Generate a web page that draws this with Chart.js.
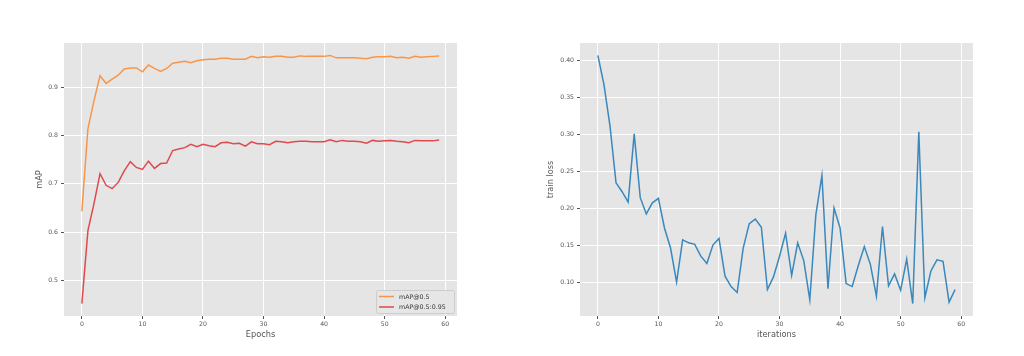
<!DOCTYPE html>
<html>
<head>
<meta charset="utf-8">
<script src="https://cdn.jsdelivr.net/npm/chart.js@4.4.1/dist/chart.umd.min.js"></script>
<style>
  html, body { margin: 0; padding: 0; background: #ffffff; }
  #wrap { position: relative; width: 1024px; height: 356px; }
  .cv { position: absolute; top: 0; }
</style>
</head>
<body>
<div id="wrap">
  <canvas id="left" class="cv" width="512" height="356" style="left:0px"></canvas>
  <canvas id="right" class="cv" width="512" height="356" style="left:512px"></canvas>
</div>
<script>
const epochs = Array.from({length: 60}, (_, i) => i);

const mapLabel50 = 'mAP@0.5';
const mapLabel5095 = 'mAP@0.5:0.95';
const lossLabel = 'train loss';

const map50 = [
  0.643, 0.814, 0.872, 0.924, 0.908, 0.917, 0.925, 0.938, 0.940, 0.940,
  0.932, 0.946, 0.939, 0.933, 0.939, 0.950, 0.952, 0.954, 0.951, 0.955,
  0.957, 0.958, 0.958, 0.960, 0.960, 0.958, 0.958, 0.958, 0.964, 0.961,
  0.963, 0.962, 0.964, 0.964, 0.962, 0.962, 0.965, 0.964, 0.964, 0.964,
  0.964, 0.966, 0.961, 0.961, 0.961, 0.961, 0.960, 0.959, 0.962, 0.963,
  0.963, 0.964, 0.961, 0.962, 0.960, 0.964, 0.962, 0.963, 0.964, 0.965
];

const map5095 = [
  0.452, 0.603, 0.659, 0.721, 0.697, 0.690, 0.703, 0.727, 0.746, 0.734,
  0.730, 0.747, 0.732, 0.742, 0.743, 0.769, 0.772, 0.775, 0.782, 0.777,
  0.782, 0.779, 0.777, 0.785, 0.786, 0.783, 0.784, 0.778, 0.787, 0.783,
  0.783, 0.781, 0.788, 0.787, 0.785, 0.787, 0.788, 0.788, 0.787, 0.787,
  0.787, 0.791, 0.787, 0.790, 0.788, 0.788, 0.787, 0.784, 0.790, 0.788,
  0.789, 0.790, 0.788, 0.787, 0.785, 0.790, 0.789, 0.789, 0.789, 0.791
];

const trainLoss = [
  0.407, 0.368, 0.312, 0.235, 0.223, 0.209, 0.301, 0.215, 0.193, 0.208,
  0.214, 0.174, 0.147, 0.101, 0.158, 0.154, 0.152, 0.136, 0.126, 0.151,
  0.160, 0.109, 0.095, 0.087, 0.147, 0.180, 0.186, 0.175, 0.091, 0.108,
  0.136, 0.167, 0.110, 0.154, 0.130, 0.077, 0.192, 0.245, 0.092, 0.201,
  0.174, 0.099, 0.095, 0.123, 0.149, 0.125, 0.082, 0.176, 0.096, 0.112,
  0.090, 0.132, 0.072, 0.304, 0.080, 0.116, 0.131, 0.129, 0.074, 0.091
];

const xTicks = [0, 10, 20, 30, 40, 50, 60];
const xTickLabels = ['0', '10', '20', '30', '40', '50', '60'];
const mapTicks = [0.5, 0.6, 0.7, 0.8, 0.9];
const mapTickLabels = ['0.5', '0.6', '0.7', '0.8', '0.9'];
const lossTicks = [0.10, 0.15, 0.20, 0.25, 0.30, 0.35, 0.40];
const lossTickLabels = ['0.10', '0.15', '0.20', '0.25', '0.30', '0.35', '0.40'];

const FONT = "'DejaVu Sans', sans-serif";
const TXT = '#555555';

function margins(arrays) {
  const all = [].concat(...arrays);
  const lo = Math.min(...all), hi = Math.max(...all);
  const pad = (hi - lo) * 0.05;
  return {min: lo - pad, max: hi + pad};
}
const xRange = {min: epochs[0] - (epochs[59] - epochs[0]) * 0.05, max: epochs[59] + (epochs[59] - epochs[0]) * 0.05};

const bgPlugin = {
  id: 'plotBg',
  beforeDraw(chart) {
    const {ctx, chartArea: a} = chart;
    ctx.save();
    ctx.fillStyle = '#E5E5E5';
    ctx.fillRect(a.left, a.top, a.right - a.left, a.bottom - a.top);
    ctx.restore();
  }
};

const innerLegend = {
  id: 'innerLegend',
  afterDatasetsDraw(chart, args, opts) {
    if (!opts || !opts.show) return;
    const {ctx, chartArea: a} = chart;
    const w = 78, h = 23;
    const x0 = a.right - 3 - w, y0 = a.bottom - 3 - h;
    ctx.save();
    ctx.fillStyle = 'rgba(229,229,229,0.9)';
    ctx.strokeStyle = '#CCCCCC';
    ctx.lineWidth = 1;
    ctx.beginPath();
    if (ctx.roundRect) ctx.roundRect(x0 + 0.5, y0 + 0.5, w, h, 2); else ctx.rect(x0 + 0.5, y0 + 0.5, w, h);
    ctx.fill();
    ctx.stroke();
    ctx.font = '6.3px ' + FONT;
    ctx.textBaseline = 'middle';
    chart.data.datasets.forEach((ds, i) => {
      const yy = y0 + 6.5 + i * 10.5;
      ctx.strokeStyle = ds.borderColor;
      ctx.lineWidth = 1.5;
      ctx.beginPath();
      ctx.moveTo(x0 + 3, yy);
      ctx.lineTo(x0 + 18, yy);
      ctx.stroke();
      ctx.fillStyle = '#333333';
      ctx.fillText(ds.label, x0 + 23, yy + 0.5);
    });
    ctx.restore();
  }
};

function makeChart(id, datasets, yTicks, yTickLabels, yRange, yTitle, xTitle, cfg) {
  return new Chart(document.getElementById(id), {
    type: 'line',
    data: { labels: epochs, datasets },
    options: {
      responsive: false,
      animation: false,
      devicePixelRatio: 1,
      layout: { padding: { left: cfg.padLeft, right: cfg.padRight, top: 43, bottom: 0 } },
      elements: { point: { radius: 0 }, line: { tension: 0, borderWidth: 1.5 } },
      plugins: {
        legend: { display: false },
        tooltip: { enabled: false },
        innerLegend: { show: cfg.legend }
      },
      scales: {
        x: {
          type: 'linear',
          min: xRange.min, max: xRange.max,
          afterBuildTicks: s => { s.ticks = xTicks.map(v => ({value: v})); },
          afterFit: s => { s.height = 40; },
          ticks: {
            color: TXT, font: { family: FONT, size: 6.2 }, padding: 2,
            maxRotation: 0, autoSkip: false,
            callback: (v) => xTickLabels[xTicks.indexOf(v)]
          },
          grid: { color: '#FFFFFF', lineWidth: 1, tickColor: '#555555', tickLength: 3, drawTicks: true },
          border: { display: false },
          title: { display: true, text: xTitle, color: TXT, font: { family: FONT, size: 8.2 }, padding: { top: 0, bottom: 16 } }
        },
        y: {
          type: 'linear',
          min: yRange.min, max: yRange.max,
          afterBuildTicks: s => { s.ticks = yTicks.map(v => ({value: v})); },
          afterFit: s => { s.width = cfg.axisWidth; },
          ticks: {
            color: TXT, font: { family: FONT, size: 6.2 }, padding: 3, autoSkip: false,
            callback: (v) => {
              const k = yTicks.findIndex(t => Math.abs(t - v) < 1e-9);
              return k >= 0 ? yTickLabels[k] : '';
            }
          },
          grid: { color: '#FFFFFF', lineWidth: 1, tickColor: '#555555', tickLength: 3, drawTicks: true },
          border: { display: false },
          title: { display: true, text: yTitle, color: TXT, font: { family: FONT, size: 8.2 }, padding: { top: cfg.titlePad, bottom: 0 } }
        }
      }
    },
    plugins: [bgPlugin, innerLegend]
  });
}

makeChart('left', [
  { label: mapLabel50, data: map50, borderColor: '#F7964A', backgroundColor: '#F7964A', fill: false },
  { label: mapLabel5095, data: map5095, borderColor: '#DE4A4D', backgroundColor: '#DE4A4D', fill: false }
], mapTicks, mapTickLabels, margins([map50, map5095]), 'mAP', 'Epochs',
  { padLeft: 30, padRight: 55, axisWidth: 34, titlePad: 5, legend: true });

makeChart('right', [
  { label: lossLabel, data: trainLoss, borderColor: '#3A88BC', backgroundColor: '#3A88BC', fill: false }
], lossTicks, lossTickLabels, margins([trainLoss]), 'train loss', 'iterations',
  { padLeft: 30, padRight: 51, axisWidth: 38, titlePad: 4, legend: false });
</script>
</body>
</html>
